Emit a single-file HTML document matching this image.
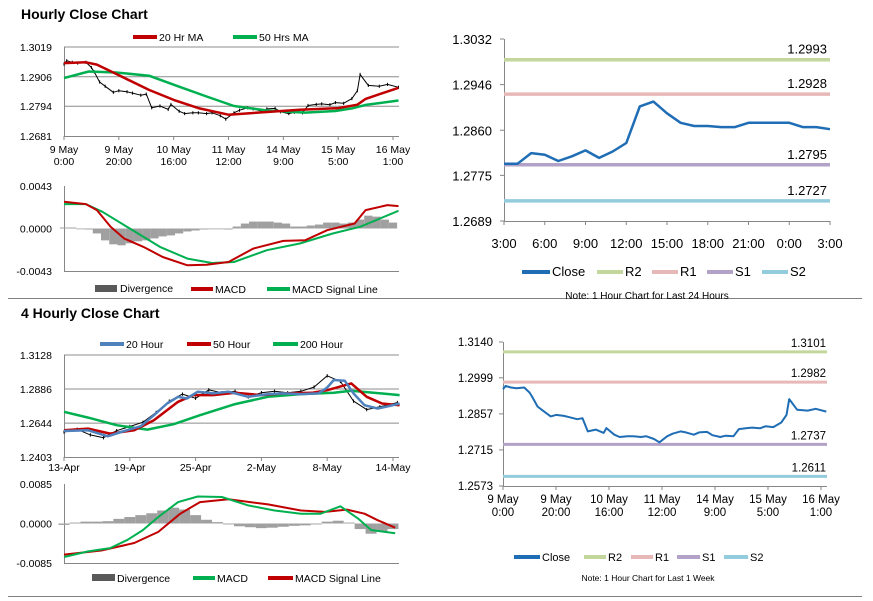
<!DOCTYPE html>
<html><head><meta charset="utf-8"><style>
html,body{margin:0;padding:0;background:#fff;}
svg{display:block;font-family:"Liberation Sans",Arial,sans-serif;}
</style></head><body>
<svg id="root" width="873" height="601" viewBox="0 0 873 601">
<rect x="0" y="0" width="873" height="601" fill="#fff"/>
<line x1="8" y1="298.5" x2="862" y2="298.5" stroke="#808080" stroke-width="1"/>
<line x1="8" y1="596.5" x2="862" y2="596.5" stroke="#808080" stroke-width="1"/>
<text x="21" y="19" font-size="14" font-weight="bold">Hourly Close Chart</text>
<text x="21" y="318" font-size="14" font-weight="bold">4 Hourly Close Chart</text>
<g id="g1"></g><g id="g2"></g><g id="g3"></g><g id="g4"></g><g id="g5"></g><g id="g6"></g>
</svg>
<script>
// ---------- data ----------
const weekHours=[0,1,3,5,8,10,11,13,15,18,20,23,25,28,30,32,35,38,39,42,44,47,49,52,54,57,59,62,64,67,69,72,74,77,79,82,84,87,89,92,94,97,99,102,105,107,108,111,115,118,122];
const weekClose=[1.2954,1.2967,1.2961,1.2958,1.2961,1.2941,1.2925,1.2886,1.2870,1.2847,1.2853,1.2849,1.2844,1.2836,1.2840,1.2788,1.2795,1.2782,1.2801,1.2775,1.2766,1.2769,1.2769,1.2766,1.2769,1.2758,1.2745,1.2769,1.2779,1.2788,1.2784,1.2775,1.2784,1.2786,1.2773,1.2766,1.2771,1.2769,1.2797,1.2801,1.2803,1.2800,1.2808,1.2805,1.2823,1.2853,1.2915,1.2873,1.2870,1.2877,1.2866];
const weekTickLabels=[["9 May","0:00"],["9 May","20:00"],["10 May","16:00"],["11 May","12:00"],["14 May","9:00"],["15 May","5:00"],["16 May","1:00"]];
const ma20Hours=[0,8,12,19,31,40,49,60,74,86,100,107,110,122];
const ma20Vals=[1.2958,1.2961,1.2952,1.2917,1.2856,1.2818,1.2787,1.2762,1.2772,1.2781,1.2787,1.2800,1.2822,1.2864];
const ma50Hours=[0,9,19,31,41,52,62,74,88,99,105,110,122];
const ma50Vals=[1.2901,1.2926,1.2922,1.2910,1.2872,1.2831,1.2795,1.2778,1.2770,1.2776,1.2786,1.2799,1.2816];
const p1Ticks=[1.2681,1.2794,1.2906,1.3019];
const macd1Hours=[0,8,12,17,22,29,36,45,52,60,69,80,88,96,106,110,118,122];
const macd1Vals=[0.00271,0.00247,0.00186,0.00017,-0.00102,-0.00186,-0.00288,-0.00372,-0.00366,-0.00339,-0.00203,-0.00125,-0.00118,-0.00017,0.00051,0.00186,0.00237,0.00227];
const sig1Hours=[0,8,14,24,35,45,54,62,74,86,98,108,122];
const sig1Vals=[0.00247,0.00247,0.00169,0,-0.00186,-0.00305,-0.00349,-0.00339,-0.00220,-0.00152,-0.00051,0.00017,0.00179];
const div1Vals=[0.0001,0.0001,0,-0.0001,-0.0005,-0.0012,-0.0016,-0.0017,-0.0015,-0.0013,-0.0012,-0.0010,-0.0008,-0.0007,-0.0005,-0.0003,-0.0002,-0.0001,0,0,-0.0001,0.0002,0.0005,0.0007,0.0007,0.0007,0.0006,0.0005,0.0002,0.0002,0.0003,0.0004,0.0006,0.0006,0.0005,0.0006,0.0009,0.0013,0.0012,0.0009,0.0006];
const macd1Ticks=[-0.0043,0,0.0043];
const dayLabels=["3:00","6:00","9:00","12:00","15:00","18:00","21:00","0:00","3:00"];
const dayClose=[1.2797,1.2797,1.2817,1.2814,1.2802,1.2811,1.2822,1.2808,1.2820,1.2836,1.2905,1.2914,1.2892,1.2874,1.2868,1.2868,1.2866,1.2866,1.2874,1.2874,1.2874,1.2874,1.2866,1.2866,1.2862];
const dayTicks=[1.2689,1.2775,1.2860,1.2946,1.3032];
const dayLevels=[1.2993,1.2928,1.2795,1.2727];
const weekLevels=[1.3101,1.2982,1.2737,1.2611];
const weekTicks=[1.2573,1.2715,1.2857,1.2999,1.3140];
const fourLabels=["13-Apr","19-Apr","25-Apr","2-May","8-May","14-May"];
const h20Bars=[0,11,20,26,35,41,47,52,56,61,68,75,84,93,100,108,116,120,123,128,132,137,143,148,153];
const h20Vals=[1.2588,1.2593,1.2550,1.2581,1.2622,1.2700,1.2783,1.2831,1.2819,1.2867,1.2855,1.2867,1.2831,1.2850,1.2855,1.2850,1.2855,1.2897,1.2950,1.2945,1.2855,1.2771,1.2748,1.2764,1.2783];
const h50Bars=[0,11,21,32,41,52,59,68,78,90,100,113,120,131,138,145,153];
const h50Vals=[1.2593,1.2605,1.2569,1.2593,1.2664,1.2795,1.2843,1.2843,1.2859,1.2843,1.2855,1.2859,1.2878,1.2926,1.2831,1.2783,1.2771];
const h200Bars=[0,11,24,38,50,62,78,93,108,123,131,153];
const h200Vals=[1.2724,1.2683,1.2629,1.2598,1.2636,1.2700,1.2779,1.2831,1.2850,1.2859,1.2874,1.2843];
const fourCloseBars=[0,6,12,18,24,30,36,42,48,54,60,66,72,78,84,90,96,102,108,114,120,126,132,138,144,152];
const fourClose=[1.2580,1.2600,1.2560,1.2540,1.2590,1.2620,1.2650,1.2720,1.2800,1.2850,1.2820,1.2880,1.2860,1.2870,1.2830,1.2860,1.2870,1.2860,1.2870,1.2900,1.2980,1.2940,1.2800,1.2740,1.2760,1.2790];
const fourTicks=[1.2403,1.2644,1.2886,1.3128];
const macd4Bars=[0,11,21,29,36,43,52,61,72,84,96,108,117,126,134,140,151];
const macd4Vals=[-0.0072,-0.0060,-0.0053,-0.0035,-0.0014,0.0014,0.0046,0.0058,0.0057,0.0039,0.0028,0.0021,0.0021,0.0037,0.0011,-0.0014,-0.0021];
const sig4Bars=[0,17,32,43,53,62,75,93,108,119,129,137,143,151];
const sig4Vals=[-0.0067,-0.0058,-0.0042,-0.0018,0.0021,0.0046,0.0052,0.0041,0.0028,0.0025,0.0030,0.0021,0.0007,-0.0009];
const div4Vals=[-0.0003,0.0002,0.0004,0.0004,0.0005,0.0010,0.0014,0.0018,0.0022,0.0028,0.0034,0.0030,0.0018,0.0008,0.0003,-0.0002,-0.0006,-0.0008,-0.0010,-0.0009,-0.0007,-0.0005,-0.0004,-0.0002,0.0004,0.0006,0.0002,-0.0012,-0.0022,-0.0018,-0.0012];
const macd4Ticks=[-0.0085,0,0.0085];

// ---------- helpers ----------
const NS="http://www.w3.org/2000/svg";
function mk(parent,tag,attrs){const e=document.createElementNS(NS,tag);for(const k in attrs)e.setAttribute(k,attrs[k]);parent.appendChild(e);return e;}
function lin(d0,d1,r0,r1){return v=>r0+(v-d0)/(d1-d0)*(r1-r0);}
function txt(p,x,y,s,size,anchor,name){const t=mk(p,"text",{x:x,y:y,"font-size":size,"text-anchor":anchor||"start",fill:"#000"});t.textContent=s;


return t;}
function path(p,xs,ys,sx,sy,color,w,name){let d="";for(let i=0;i<xs.length;i++)d+=(i?"L":"M")+sx(xs[i]).toFixed(1)+","+sy(ys[i]).toFixed(1);
const e=mk(p,"path",{d:d,fill:"none",stroke:color,"stroke-width":w,"stroke-linejoin":"round"});


return e;}
function ln(p,x1,y1,x2,y2,c,w,name){const e=mk(p,"line",{x1:x1,y1:y1,x2:x2,y2:y2,stroke:c,"stroke-width":w});


return e;}
function legendLine(p,x1,x2,y,c,label,size,name){ln(p,x1,y,x2,y,c,4,name+"-swatch");txt(p,x2+2,y+4,label,size,"start",name);}
function fmt(v){return v.toFixed(4);}
function hist(g,vals,step,sx,sy){const w=Math.abs(sx(step)-sx(0));
vals.forEach((v,i)=>{const x=sx(i*step);const r=mk(g,"rect",{x:x-w/2,y:Math.min(sy(v),sy(0)),width:w,height:Math.max(0.8,Math.abs(sy(v)-sy(0))),fill:"#a0a0a0"});

});}
const RED="#c00000",GREEN="#00b050",BLUE="#4f81bd",CBLUE="#1f6db5",GRID="#8c8c8c",AX="#868686";

// ---------- Panel 1 ----------
(function(){const g=document.getElementById("g1");
const sx=lin(0,120,64,393),sy=lin(1.2681,1.3019,136,47);
p1Ticks.forEach((t,i)=>{if(i>0)ln(g,64,sy(t),399,sy(t),GRID,1,"gridline");txt(g,52,sy(t)+4,fmt(t),10.5,"end","y-tick-label");});
ln(g,64.5,47,64.5,136,AX,1,"y-axis");ln(g,64,136.5,399,136.5,AX,1,"x-axis");
weekTickLabels.forEach((l,i)=>{const x=sx(i*20);ln(g,x,136,x,140,AX,1,"x-tick");txt(g,x,153,l[0],10.5,"middle","x-tick-label");txt(g,x,165,l[1],10.5,"middle","x-tick-label");});
path(g,weekHours,weekClose,sx,sy,"#000",1,"price-line");
weekHours.forEach((h,i)=>{ln(g,sx(h),sy(weekClose[i]+0.0006),sx(h),sy(weekClose[i]-0.0006),"#000",1,"price-bar");});
path(g,ma50Hours,ma50Vals,sx,sy,GREEN,2.5,"ma50-line");
path(g,ma20Hours,ma20Vals,sx,sy,RED,2.5,"ma20-line");
legendLine(g,133,157,37,RED,"20 Hr MA",10.5,"legend-20hr-ma");
legendLine(g,233,257,37,GREEN,"50 Hrs MA",10.5,"legend-50hrs-ma");
})();

// ---------- Panel 2 ----------
(function(){const g=document.getElementById("g2");
const sx=lin(0,120,64,393),sy=lin(-0.0043,0.0043,271,186);
macd1Ticks.forEach(t=>{txt(g,52,sy(t)+4,fmt(t),10.5,"end","y-tick-label");});
ln(g,64.5,186,64.5,271,AX,1,"y-axis");ln(g,64,271.5,399,271.5,AX,1,"x-axis");
hist(g,div1Vals,3,sx,sy);
path(g,sig1Hours,sig1Vals,sx,sy,GREEN,2,"macd-signal-line");
path(g,macd1Hours,macd1Vals,sx,sy,RED,2,"macd-line");
const b=mk(g,"rect",{x:95,y:285,width:22,height:7,fill:"#595959"});


txt(g,120,292,"Divergence",10.5,"start","legend-divergence");
legendLine(g,191,213,289,RED,"MACD",10.5,"legend-macd");
legendLine(g,267,290,289,GREEN,"MACD Signal Line",10.5,"legend-signal");
})();

// ---------- Panel 3 ----------
(function(){const g=document.getElementById("g3");
const sx=lin(0,24,504,830),sy=lin(1.2689,1.3032,221,39);
dayTicks.forEach(t=>{txt(g,492,sy(t)+5,fmt(t),13,"end","y-tick-label");ln(g,500,sy(t),504,sy(t),AX,1,"y-tick");});
ln(g,504.5,39,504.5,221,AX,1,"y-axis");ln(g,504,221.5,830,221.5,AX,1,"x-axis");
dayLabels.forEach((l,i)=>{const x=sx(i*3);ln(g,x,221,x,225,AX,1,"x-tick");txt(g,x,248,l,13,"middle","x-tick-label");});
const lc=["#c3d69b","#e6b9b8","#b3a2c7","#93cddd"],ln_=["r2","r1","s1","s2"];
dayLevels.forEach((v,i)=>{ln(g,504,sy(v),830,sy(v),lc[i],3.5,"level-"+ln_[i]);txt(g,827,sy(v)-6,fmt(v),13,"end","level-label-"+ln_[i]);});
path(g,dayClose.map((_,i)=>i),dayClose,sx,sy,CBLUE,2.5,"close-line");
legendLine(g,522,550,272,CBLUE,"Close",13,"legend-close");
legendLine(g,597,623,272,lc[0],"R2",13,"legend-r2");
legendLine(g,652,678,272,lc[1],"R1",13,"legend-r1");
legendLine(g,707,733,272,lc[2],"S1",13,"legend-s1");
legendLine(g,762,788,272,lc[3],"S2",13,"legend-s2");
txt(g,647,299,"Note: 1 Hour Chart for Last 24 Hours",10,"middle","note-24h");
})();

// ---------- Panel 4 ----------
(function(){const g=document.getElementById("g4");
const sx=lin(0,120,503,821),sy=lin(1.2573,1.3140,486,342);
weekTicks.forEach(t=>{txt(g,493,sy(t)+4,fmt(t),11.5,"end","y-tick-label");ln(g,499,sy(t),503,sy(t),AX,1,"y-tick");});
ln(g,503.5,342,503.5,486,AX,1,"y-axis");ln(g,503,486.5,827,486.5,AX,1,"x-axis");
weekTickLabels.forEach((l,i)=>{const x=sx(i*20);ln(g,x,486,x,490,AX,1,"x-tick");txt(g,x,503,l[0],11.5,"middle","x-tick-label");txt(g,x,516,l[1],11.5,"middle","x-tick-label");});
const lc=["#c3d69b","#e6b9b8","#b3a2c7","#93cddd"],ln_=["r2","r1","s1","s2"];
weekLevels.forEach((v,i)=>{ln(g,503,sy(v),827,sy(v),lc[i],3,"level-"+ln_[i]);txt(g,826,sy(v)-5,fmt(v),11.5,"end","level-label-"+ln_[i]);});
path(g,weekHours,weekClose,sx,sy,CBLUE,2,"close-line");
legendLine(g,514,540,557,CBLUE,"Close",11,"legend-close");
legendLine(g,584,606,557,lc[0],"R2",11,"legend-r2");
legendLine(g,631,653,557,lc[1],"R1",11,"legend-r1");
legendLine(g,677,700,557,lc[2],"S1",11,"legend-s1");
legendLine(g,724,748,557,lc[3],"S2",11,"legend-s2");
txt(g,648,581,"Note: 1 Hour Chart for  Last 1 Week",8.5,"middle","note-1week");
})();

// ---------- Panel 5 ----------
(function(){const g=document.getElementById("g5");
const sx=lin(0,150,64,393),sy=lin(1.2403,1.3128,457,355);
fourTicks.forEach((t,i)=>{if(i>0)ln(g,64,sy(t),399,sy(t),GRID,1,"gridline");txt(g,52,sy(t)+4,fmt(t),10.5,"end","y-tick-label");});
ln(g,64.5,355,64.5,457,AX,1,"y-axis");ln(g,64,457.5,399,457.5,AX,1,"x-axis");
fourLabels.forEach((l,i)=>{const x=sx(i*30);ln(g,x,457,x,461,AX,1,"x-tick");txt(g,x,471,l,10.5,"middle","x-tick-label");});
path(g,fourCloseBars,fourClose,sx,sy,"#000",1,"price-line");
fourCloseBars.forEach((b,i)=>{ln(g,sx(b),sy(fourClose[i]+0.0012),sx(b),sy(fourClose[i]-0.0012),"#000",1,"price-bar");});
path(g,h200Bars,h200Vals,sx,sy,GREEN,2.5,"ma200-line");
path(g,h50Bars,h50Vals,sx,sy,RED,2.5,"ma50-line");
path(g,h20Bars,h20Vals,sx,sy,BLUE,2.5,"ma20-line");
legendLine(g,100,124,344,BLUE,"20 Hour",10.5,"legend-20-hour");
legendLine(g,187,211,344,RED,"50 Hour",10.5,"legend-50-hour");
legendLine(g,273,298,344,GREEN,"200 Hour",10.5,"legend-200-hour");
})();

// ---------- Panel 6 ----------
(function(){const g=document.getElementById("g6");
const sx=lin(0,150,64,393),sy=lin(-0.0085,0.0085,563,484);
macd4Ticks.forEach(t=>{txt(g,52,sy(t)+4,fmt(t),10.5,"end","y-tick-label");});
ln(g,64.5,484,64.5,563,AX,1,"y-axis");ln(g,64,563.5,399,563.5,AX,1,"x-axis");
hist(g,div4Vals,5,sx,sy);
path(g,sig4Bars,sig4Vals,sx,sy,RED,2,"macd-signal-line");
path(g,macd4Bars,macd4Vals,sx,sy,GREEN,2,"macd-line");
const b=mk(g,"rect",{x:92,y:574,width:23,height:7,fill:"#595959"});


txt(g,117,582,"Divergence",10.5,"start","legend-divergence");
legendLine(g,193,215,578,GREEN,"MACD",10.5,"legend-macd");
legendLine(g,268,293,578,RED,"MACD Signal Line",10.5,"legend-signal");
})();
</script>
</body></html>
